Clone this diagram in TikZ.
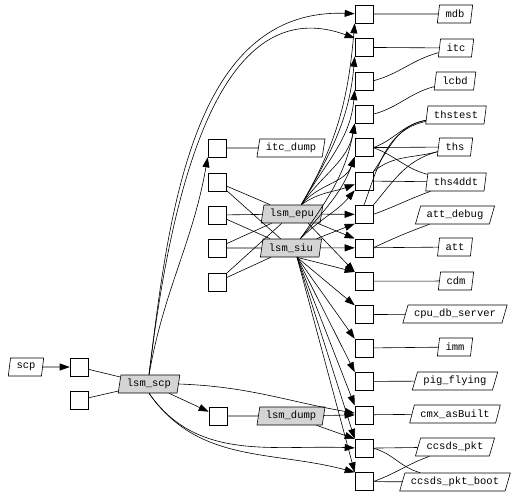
\documentclass[tikz,border=0pt]{standalone}
\usepackage{fontspec}
\setmonofont{Liberation Mono}
\usetikzlibrary{arrows.meta,shapes.geometric}
\tikzset{
  >={Triangle[length=10pt,width=7pt]},
  sq/.style={draw,minimum size=18pt,inner sep=0pt},
  lb/.style={trapezium,trapezium stretches=true,trapezium left angle=74,trapezium right angle=106,draw,fill=white,
    minimum height=18pt,inner xsep=6pt,inner ysep=0pt,font=\ttfamily\fontsize{10.5}{11}\selectfont},
  lbw/.style={lb,trapezium left angle=62,trapezium right angle=118},
  gr/.style={fill=black!17},
  every picture/.style={line width=0.6pt},
}
\begin{document}
\begin{tikzpicture}[x=1pt,y=-1pt]
\useasboundingbox (0,0) rectangle (517,496);
% left part
\node[lb] (scp) at (26,367){scp}; \node[sq] (sA) at (79,367){}; \node[sq] (sB) at (79,400){};
\node[lb,gr] (lscp) at (149,384){lsm\_scp}; \node[sq] (dq) at (218,416){};
\node[lb,gr] (ldump) at (291,416){lsm\_dump};
% middle column
\node[sq] (m1) at (217,148){}; \node[sq] (m2) at (217,182){}; \node[sq] (m3) at (217,215){};
\node[sq] (m4) at (217,248){}; \node[sq] (m5) at (217,282){};
\node[lb] (itcd) at (291,148){itc\_dump}; \node[lb,gr] (lepu) at (292,214){lsm\_epu};
\node[lb,gr] (lsiu) at (291,248){lsm\_siu};
% right column
\node[sq] (r1) at (364,14){}; \node[sq] (r2) at (364,47.4){}; \node[sq] (r3) at (364,80.8){};
\node[sq] (r4) at (364,114.2){}; \node[sq] (r5) at (364,147.6){}; \node[sq] (r6) at (364,181){};
\node[sq] (r7) at (364,214.4){}; \node[sq] (r8) at (364,247.8){}; \node[sq] (r9) at (364,281.2){};
\node[sq] (r10) at (364,314.6){}; \node[sq] (r11) at (364,348){}; \node[sq] (r12) at (364,381.4){};
\node[sq] (r13) at (364,414.8){}; \node[sq] (r14) at (364,448.2){}; \node[sq] (r15) at (364,481.6){};
\node[lb] (mdb) at (455,14){mdb}; \node[lb] (itc) at (456,48){itc};
\node[lb] (lcbd) at (455,81){lcbd}; \node[lb] (thstest) at (456,115){thstest};
\node[lb] (ths) at (455,147){ths}; \node[lb] (thsddt) at (456,182){ths4ddt};
\node[lbw] (attdbg) at (455,215){att\_debug}; \node[lb] (att) at (455,247){att};
\node[lb] (cdm) at (456,281){cdm}; \node[lbw] (cpudb) at (455,314){cpu\_db\_server};
\node[lb] (imm) at (455,347){imm}; \node[lbw] (pig) at (455,381){pig\_flying};
\node[lbw] (cmx) at (455,414){cmx\_asBuilt}; \node[lbw] (pkt) at (455,447){ccsds\_pkt};
\node[lbw] (pktboot) at (455,482){ccsds\_pkt\_boot};
% edges to the labels
\draw (r1)--(mdb); \draw (r2)--(itc); \draw (r3.east) to[out=15,in=195] (itc);
\draw (r4.east) to[out=15,in=195] (lcbd); \draw (r5.east) to[out=20,in=190] (thstest);
\draw (r5)--(ths); \draw (r5.east) to[out=-20,in=165] (thsddt);
\draw (r6.north east) to[out=55,in=190] (thstest); \draw (r6.north east) to[out=40,in=195] (ths);
\draw (r6)--(thsddt); \draw (r7.north) to[out=70,in=192] (thstest);
\draw (r7.north east) to[out=50,in=195] (ths); \draw (r7.east) to[out=20,in=200] (thsddt);
\draw (r8.east) to[out=25,in=200] (attdbg); \draw (r8)--(att); \draw (r9)--(cdm);
\draw (r10)--(cpudb); \draw (r11)--(imm); \draw (r12)--(pig); \draw (r13)--(cmx);
\draw (r14)--(pkt); \draw (r14.east) to[out=-15,in=165] (pktboot);
\draw (r15.east) to[out=20,in=200] (pkt); \draw (r15)--(pktboot);
% left edges
\draw[->] (scp)--(sA); \draw (sA)--(lscp); \draw (sB)--(lscp);
\draw[->] (lscp)--(dq); \draw (dq)--(ldump);
\draw[->] (lscp.north) to[out=83,in=178] (r1); \draw[->] (lscp.north) to[out=83,in=160] (r2.north west);
\draw[->] (lscp.north) to[out=80,in=-100] (m1.south west);
\draw[->] (lscp.east) to[out=-2,in=170] (r13); \draw[->] (lscp.south) to[out=-55,in=178] (r14);
\draw[->] (lscp.south) to[out=-55,in=165] (r15.north west);
\draw[->] (ldump)--(r13); \draw[->] (ldump.-20)--(r14.north west);
% middle edges
\draw (m1)--(itcd);
\draw (m2)--(lepu); \draw (m2)--(lsiu); \draw (m3)--(lepu); \draw (m3)--(lsiu);
\draw (m4)--(lepu); \draw (m4)--(lsiu); \draw (m5)--(lepu); \draw (m5)--(lsiu);
% lsm_epu
\draw[->] (lepu.north east) to[out=60,in=-95] (r1.south west);
\draw[->] (lepu.north east) to[out=60,in=-95] (r2.south west);
\draw[->] (lepu.north east) to[out=60,in=-95] (r3.south west);
\draw[->] (lepu.north east) to[out=55,in=-100] (r4.south west);
\draw[->] (lepu.north east) to[out=50,in=-110] (r5.south west);
\draw[->] (lepu.north east) to[out=35,in=200] (r6); \draw[->] (lepu)--(r7);
\draw[->] (lepu.-20)--(r8.north west); \draw[->] (lepu.-30)--(r9.north west);
% lsm_siu
\draw[->] (lsiu.north east) to[out=55,in=-100] (r4.south west);
\draw[->] (lsiu.north east) to[out=50,in=-110] (r5.south west);
\draw[->] (lsiu.north east) to[out=45,in=-130] (r6.south west);
\draw[->] (lsiu.20)--(r7.south west); \draw[->] (lsiu)--(r8);
\draw[->] ([xshift=6pt]lsiu.south)--(r9.north west);
\draw[->] ([xshift=6pt]lsiu.south)--(r10.north west);
\draw[->] ([xshift=6pt]lsiu.south)--(r11.north west);
\draw[->] ([xshift=6pt]lsiu.south)--(r12.north west);
\draw[->] ([xshift=6pt]lsiu.south)--(r13.north west);
\draw[->] ([xshift=6pt]lsiu.south)--(r14.north west);
\draw[->] ([xshift=6pt]lsiu.south)--(r15.north west);
\end{tikzpicture}
\end{document}
